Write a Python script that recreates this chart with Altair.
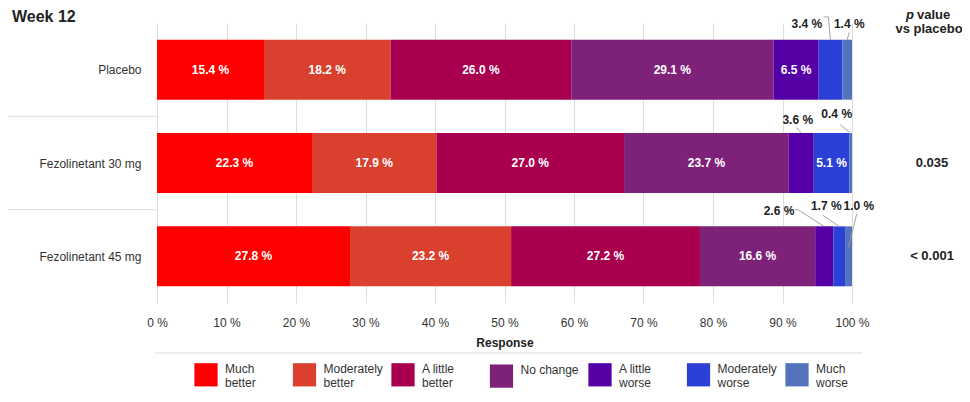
import altair as alt
import pandas as pd

# ---------------- data ----------------
groups = ["Placebo", "Fezolinetant 30 mg", "Fezolinetant 45 mg"]
responses = ["Much better", "Moderately better", "A little better", "No change",
             "A little worse", "Moderately worse", "Much worse"]
colors = ["#ff0000", "#d9402e", "#a8004f", "#7d2278", "#5400a6", "#2b40d6", "#5473bd"]
placebo = [15.4, 18.2, 26.0, 29.1, 6.5, 3.4, 1.4]
fez30 = [22.3, 17.9, 27.0, 23.7, 3.6, 5.1, 0.4]
fez45 = [27.8, 23.2, 27.2, 16.6, 2.6, 1.7, 1.0]
p_values = ["", "0.035", "< 0.001"]
chart_title = "Week 12"
series = [placebo, fez30, fez45]

# ---------------- annotation layout (label nudges, in axis units) ----------------
# (group index, response index): (label x in %, label y relative to row centre)
outside_label_pos = {
    (0, 5): (93.5, -0.49), (0, 6): (99.6, -0.49),
    (1, 4): (92.2, -0.46), (1, 6): (97.8, -0.52),
    (2, 4): (89.5, -0.49), (2, 5): (96.3, -0.535), (2, 6): (101.0, -0.535),
}
# leader polylines: start points (x %, y rel), then end y rel at segment centre
leader_pts = {
    (0, 5): ([(95.9, -0.565), (96.6, -0.565)], -0.32),
    (0, 6): ([(99.6, -0.40)], -0.32),
    (1, 4): ([(92.0, -0.38)], -0.32),
    (1, 6): ([(98.3, -0.41)], -0.32),
    (2, 4): ([(91.8, -0.50), (92.2, -0.50)], -0.32),
    (2, 5): ([(95.8, -0.44)], -0.32),
    (2, 6): ([(100.7, -0.46)], -0.10),
}
HALF = 0.321  # half bar thickness in row units

rows = []
for gi, (g, vals) in enumerate(zip(groups, series)):
    for ri, (r, v) in enumerate(zip(responses, vals)):
        rows.append(dict(group=g, row=gi, response=r, order=ri, value=v))
df = pd.DataFrame(rows)

# outside labels & leaders
out_rows, lead_rows = [], []
for (gi, ri), (lx, ly) in outside_label_pos.items():
    vals = series[gi]
    v = vals[ri]
    out_rows.append(dict(tx=lx, ty=gi + ly, label=f"{v:.1f} %"))
    tot = sum(vals)
    mid = (sum(vals[:ri]) + v / 2) / tot * 100
    pts, yend = leader_pts[(gi, ri)]
    allpts = pts + [(mid, yend)]
    for k, (px, py) in enumerate(allpts):
        lead_rows.append(dict(lid=f"{gi}-{ri}", k=k, lx=px, ly=gi + py))
out_df = pd.DataFrame(out_rows)
lead_df = pd.DataFrame(lead_rows)
sep_df = pd.DataFrame({"sep": [i + 0.5 for i in range(len(groups) - 1)]})
p_df = pd.DataFrame({"row": list(range(len(groups))), "p": p_values})

FONT = "Liberation Sans"

label_expr_y = "[" + ",".join(f"'{g}'" for g in groups) + "][datum.value]"
xscale = alt.Scale(domain=[0, 100], nice=False, zero=True)
xaxis = alt.Axis(values=list(range(0, 101, 10)), labelExpr="datum.value + ' %'",
                 title="Response", titleFontWeight="bold", titleFontSize=12, titleColor="#222",
                 titlePadding=9, labelFontSize=12, labelColor="#333", labelPadding=14,
                 ticks=False, domain=False, grid=True, gridColor="#dddddd", labelFlush=False)
yscale = alt.Scale(domain=[-0.5, len(groups) - 0.5], reverse=True, nice=False, zero=False)
yaxis = alt.Axis(values=list(range(len(groups))), labelExpr=label_expr_y, title=None,
                 ticks=False, domain=False, grid=False, labelFontSize=12, labelColor="#333",
                 labelPadding=16)

legend_expr = ("datum.label == 'No change' ? datum.label : "
               "[substring(datum.label, 0, lastindexof(datum.label, ' ')), "
               "substring(datum.label, lastindexof(datum.label, ' ') + 1)]")

base = alt.Chart(df).transform_stack(
    stack="value", groupby=["group"], as_=["s0", "s1"],
    sort=[alt.SortField("order", order="ascending")], offset="normalize"
).transform_calculate(
    x0="datum.s0 * 100", x1="datum.s1 * 100",
    mid="(datum.s0 + datum.s1) * 50",
    ytop=f"datum.row - {HALF}", ybot=f"datum.row + {HALF}",
    lab="format(datum.value, '.1f') + ' %'"
)

bars = base.mark_bar().encode(
    x=alt.X("x0:Q", scale=xscale, axis=xaxis),
    x2="x1:Q",
    y=alt.Y("ytop:Q", scale=yscale, axis=yaxis),
    y2="ybot:Q",
    color=alt.Color("response:N", sort=responses,
                    scale=alt.Scale(domain=responses, range=colors),
                    legend=alt.Legend(title=None, orient="none", legendX=37, legendY=334,
                                      direction="horizontal", columns=7,
                                      symbolType="M-1,-0.5H1V1.5H-1Z",
                                      symbolSize=540, symbolStrokeWidth=0, symbolOpacity=1,
                                      labelFontSize=12, labelColor="#333", labelOffset=7,
                                      columnPadding=7.5, gridAlign="all", labelExpr=legend_expr,
                                      padding=0, labelLimit=200)),
)

inside = base.transform_filter("datum.value >= 5").mark_text(
    color="white", fontWeight="bold", fontSize=12, font=FONT
).encode(
    x=alt.X("mid:Q", scale=xscale, axis=xaxis),
    y=alt.Y("row:Q", scale=yscale, axis=yaxis),
    text="lab:N",
)

outside = alt.Chart(out_df).mark_text(
    color="#222", fontWeight="bold", fontSize=12, font=FONT
).encode(
    x=alt.X("tx:Q", scale=xscale, axis=xaxis),
    y=alt.Y("ty:Q", scale=yscale, axis=yaxis),
    text="label:N",
)

leaders = alt.Chart(lead_df).mark_line(color="#9a9a9a", strokeWidth=0.9).encode(
    x=alt.X("lx:Q", scale=xscale, axis=xaxis),
    y=alt.Y("ly:Q", scale=yscale, axis=yaxis),
    detail="lid:N",
    order="k:Q",
)

seps = alt.Chart(sep_df).mark_rule(color="#dddddd", strokeWidth=1).encode(
    y=alt.Y("sep:Q", scale=yscale, axis=yaxis),
    x=alt.value(-149), x2=alt.value(0),
)

pvals = alt.Chart(p_df).mark_text(
    color="#222", fontWeight="bold", fontSize=13, font=FONT, align="center"
).encode(
    y=alt.Y("row:Q", scale=yscale, axis=yaxis),
    x=alt.value(775),
    text="p:N",
)

hdr_p = alt.Chart(pd.DataFrame({"t": ["p"]})).mark_text(
    color="#222", fontWeight="bold", fontStyle="italic", fontSize=13, font=FONT, align="right"
).encode(x=alt.value(757), y=alt.value(-8), text="t:N")
hdr_v = alt.Chart(pd.DataFrame({"t": ["value"]})).mark_text(
    color="#222", fontWeight="bold", fontSize=13, font=FONT, align="left"
).encode(x=alt.value(760), y=alt.value(-8), text="t:N")
hdr_vs = alt.Chart(pd.DataFrame({"t": ["vs placebo"]})).mark_text(
    color="#222", fontWeight="bold", fontSize=13, font=FONT, align="center"
).encode(x=alt.value(772), y=alt.value(6), text="t:N")

title_txt = alt.Chart(pd.DataFrame({"t": [chart_title]})).mark_text(
    color="#222", fontWeight="bold", fontSize=16, font=FONT, align="left", baseline="middle"
).encode(x=alt.value(-145), y=alt.value(-6), text="t:N")

divider = alt.Chart(pd.DataFrame({"d": [0]})).mark_rule(color="#dddddd", strokeWidth=1).encode(
    x=alt.value(-2), x2=alt.value(705), y=alt.value(330)
)

chart = alt.layer(
    bars, inside, leaders, outside, seps, pvals, hdr_p, hdr_v, hdr_vs, title_txt, divider
).properties(
    width=695, height=280,
    autosize=alt.AutoSizeParams(type="none"),
    padding={"left": 149, "top": 15, "right": 110, "bottom": 91},
).configure(font=FONT).configure_view(stroke=None)

chart.save("out.html", embed_options={"renderer": "svg", "actions": False})
